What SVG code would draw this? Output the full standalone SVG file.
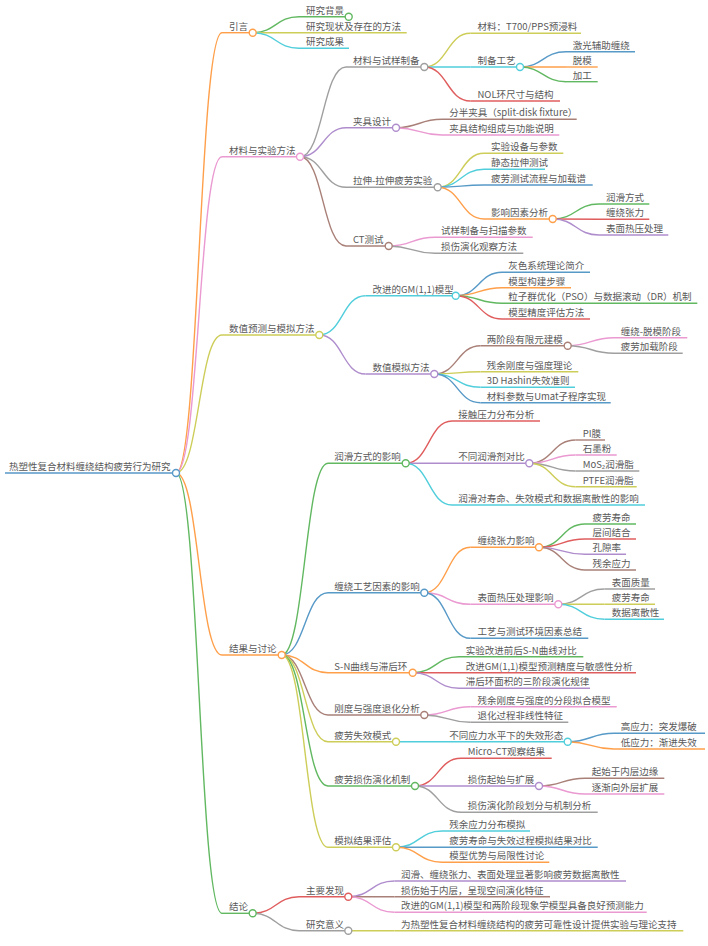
<svg xmlns="http://www.w3.org/2000/svg" width="708" height="946" viewBox="0 0 708 946">
<style>
text{font-family:"Noto Sans CJK SC","Noto Sans",sans-serif;font-size:9.5px;fill:#595959}
path,line{fill:none;stroke-width:1.4}
circle{fill:#fff;stroke-width:1.4}
.b{stroke:#5799c7}.o{stroke:#ff9f4a}.g{stroke:#61b861}.r{stroke:#e05d5e}.p{stroke:#af8dcd}
.br{stroke:#a98078}.pk{stroke:#ea99d1}.gy{stroke:#9f9f9f}.ol{stroke:#cdcd59}.cy{stroke:#51cedb}
</style>
<rect width="708" height="946" fill="#fff"/>
<g id="connectors">
<path class="o" d="M176 473C199 473 199 32.7 222 32.7"/>
<path class="pk" d="M176 473C199 473 199 156.7 222 156.7"/>
<path class="ol" d="M176 473C199 473 199 335 222 335"/>
<path class="o" d="M176 473C199 473 199 655 222 655"/>
<path class="g" d="M176 473C199 473 199 913.3 222 913.3"/>
<path class="g" d="M252.7 32.7C275.9 32.7 275.9 16.7 299 16.7"/>
<path class="ol" d="M252.7 32.7L299 32.7"/>
<path class="cy" d="M252.7 32.7C275.9 32.7 275.9 48.3 299 48.3"/>
<path class="gy" d="M300 156.7C323 156.7 323 67 346 67"/>
<path class="p" d="M300 156.7C323 156.7 323 127.7 346 127.7"/>
<path class="gy" d="M300 156.7C323 156.7 323 187.3 346 187.3"/>
<path class="br" d="M300 156.7C323 156.7 323 246 346 246"/>
<path class="ol" d="M424.3 67C447.3 67 447.3 33.3 470.3 33.3"/>
<path class="cy" d="M424.3 67L470.3 67"/>
<path class="r" d="M424.3 67C447.3 67 447.3 101 470.3 101"/>
<path class="b" d="M520 67C543 67 543 51.7 566 51.7"/>
<path class="o" d="M520 67L566 67"/>
<path class="g" d="M520 67C543 67 543 81.7 566 81.7"/>
<path class="br" d="M396 127.7C419 127.7 419 119.3 442 119.3"/>
<path class="pk" d="M396 127.7C419 127.7 419 135 442 135"/>
<path class="ol" d="M437.7 187.3C460.9 187.3 460.9 153.3 484 153.3"/>
<path class="cy" d="M437.7 187.3C460.9 187.3 460.9 169.3 484 169.3"/>
<path class="b" d="M437.7 187.3C460.9 187.3 460.9 185 484 185"/>
<path class="o" d="M437.7 187.3C460.9 187.3 460.9 219 484 219"/>
<path class="g" d="M552.7 219C575.9 219 575.9 204 599 204"/>
<path class="r" d="M552.7 219L599 219.3"/>
<path class="p" d="M552.7 219C575.9 219 575.9 235 599 235"/>
<path class="pk" d="M388.7 246C411.9 246 411.9 237.3 435 237.3"/>
<path class="gy" d="M388.7 246C411.9 246 411.9 253.3 435 253.3"/>
<path class="cy" d="M319.3 335C342.4 335 342.4 295.7 365.5 295.7"/>
<path class="p" d="M319.3 335C342.4 335 342.4 374 365.5 374"/>
<path class="b" d="M455.7 295.7C478.9 295.7 478.9 272.3 502 272.3"/>
<path class="o" d="M455.7 295.7C478.9 295.7 478.9 287.7 502 287.7"/>
<path class="g" d="M455.7 295.7C478.9 295.7 478.9 303.3 502 303.3"/>
<path class="r" d="M455.7 295.7C478.9 295.7 478.9 319 502 319"/>
<path class="br" d="M434.3 374C457.4 374 457.4 345.7 480.5 345.7"/>
<path class="ol" d="M434.3 374C457.4 374 457.4 371.7 480.5 371.7"/>
<path class="cy" d="M434.3 374C457.4 374 457.4 387.3 480.5 387.3"/>
<path class="b" d="M434.3 374C457.4 374 457.4 402.7 480.5 402.7"/>
<path class="pk" d="M567.7 345.7C590.9 345.7 590.9 337.7 614 337.7"/>
<path class="gy" d="M567.7 345.7C590.9 345.7 590.9 353.3 614 353.3"/>
<path class="g" d="M281.7 655C304.9 655 304.9 463.3 328 463.3"/>
<path class="b" d="M281.7 655C304.9 655 304.9 592.7 328 592.7"/>
<path class="o" d="M281.7 655C304.9 655 304.9 672.7 328 672.7"/>
<path class="br" d="M281.7 655C304.9 655 304.9 715 328 715"/>
<path class="ol" d="M281.7 655C304.9 655 304.9 741.7 328 741.7"/>
<path class="g" d="M281.7 655C304.9 655 304.9 786 328 786"/>
<path class="ol" d="M281.7 655C304.9 655 304.9 847.3 328 847.3"/>
<path class="r" d="M405.7 463.3C428.9 463.3 428.9 421 452 421"/>
<path class="p" d="M405.7 463.3L452 463.3"/>
<path class="cy" d="M405.7 463.3C428.9 463.3 428.9 505 452 505"/>
<path class="br" d="M529.3 463.3C552.4 463.3 552.4 440 575.5 440"/>
<path class="pk" d="M529.3 463.3C552.4 463.3 552.4 455 575.5 455"/>
<path class="gy" d="M529.3 463.3C552.4 463.3 552.4 471 575.5 471"/>
<path class="ol" d="M529.3 463.3C552.4 463.3 552.4 486.7 575.5 486.7"/>
<path class="o" d="M424.3 592.7C447.3 592.7 447.3 547.3 470.3 547.3"/>
<path class="pk" d="M424.3 592.7C447.3 592.7 447.3 604.3 470.3 604.3"/>
<path class="b" d="M424.3 592.7C447.3 592.7 447.3 638.3 470.3 638.3"/>
<path class="g" d="M539 547.3C562 547.3 562 524 585 524"/>
<path class="r" d="M539 547.3C562 547.3 562 539 585 539"/>
<path class="p" d="M539 547.3C562 547.3 562 554.3 585 554.3"/>
<path class="br" d="M539 547.3C562 547.3 562 570 585 570"/>
<path class="gy" d="M558.3 604.3C581.4 604.3 581.4 589 604.5 589"/>
<path class="ol" d="M558.3 604.3L604.5 604.3"/>
<path class="cy" d="M558.3 604.3C581.4 604.3 581.4 619.3 604.5 619.3"/>
<path class="g" d="M412.7 672.7C435.9 672.7 435.9 656.7 459 656.7"/>
<path class="r" d="M412.7 672.7L459 672.7"/>
<path class="p" d="M412.7 672.7C435.9 672.7 435.9 688.3 459 688.3"/>
<path class="pk" d="M424.3 715C447.3 715 447.3 706.7 470.3 706.7"/>
<path class="gy" d="M424.3 715C447.3 715 447.3 722.3 470.3 722.3"/>
<path class="cy" d="M396 741.7L442 741.7"/>
<path class="b" d="M567.7 741.7C590.9 741.7 590.9 733.3 614 733.3"/>
<path class="o" d="M567.7 741.7C590.9 741.7 590.9 749 614 749"/>
<path class="r" d="M415 786C438 786 438 758.3 461 758.3"/>
<path class="p" d="M415 786L461 786"/>
<path class="gy" d="M415 786C438 786 438 812.3 461 812.3"/>
<path class="br" d="M539 786C562 786 562 778.3 585 778.3"/>
<path class="pk" d="M539 786C562 786 562 794 585 794"/>
<path class="cy" d="M396 847.3C419 847.3 419 831 442 831"/>
<path class="b" d="M396 847.3L442 847.3"/>
<path class="o" d="M396 847.3C419 847.3 419 862.3 442 862.3"/>
<path class="r" d="M252.7 913.3C275.9 913.3 275.9 896.7 299 896.7"/>
<path class="gy" d="M252.7 913.3C275.9 913.3 275.9 930.7 299 930.7"/>
<path class="p" d="M348.3 896.7C371.4 896.7 371.4 881 394.5 881"/>
<path class="br" d="M348.3 896.7L394.5 896.7"/>
<path class="pk" d="M348.3 896.7C371.4 896.7 371.4 912.3 394.5 912.3"/>
<path class="ol" d="M348.3 930.7L394.5 930.7"/>
</g>
<g id="root"><line class="b" x1="5" y1="473" x2="176" y2="473"/><text x="9" y="470">热塑性复合材料缠绕结构疲劳行为研究</text><circle class="b" cx="176" cy="473" r="3.5"/></g>
<g id="n1"><line class="o" x1="222" y1="32.7" x2="252.7" y2="32.7"/><text x="229" y="29.7">引言</text><circle class="o" cx="252.7" cy="32.7" r="3.5"/></g>
<g id="n1-1"><line class="g" x1="299" y1="16.7" x2="348.7" y2="16.7"/><text x="306" y="13.7">研究背景</text><circle class="g" cx="348.7" cy="16.7" r="3.5"/></g>
<g id="n1-2"><line class="ol" x1="299" y1="32.7" x2="406.7" y2="32.7"/><text x="306" y="29.7">研究现状及存在的方法</text></g>
<g id="n1-3"><line class="cy" x1="299" y1="48.3" x2="349" y2="48.3"/><text x="306" y="45.3">研究成果</text></g>
<g id="n2"><line class="pk" x1="222" y1="156.7" x2="300" y2="156.7"/><text x="229" y="153.7">材料与实验方法</text><circle class="pk" cx="300" cy="156.7" r="3.5"/></g>
<g id="n2-1"><line class="gy" x1="346" y1="67" x2="424.3" y2="67"/><text x="353" y="64">材料与试样制备</text><circle class="gy" cx="424.3" cy="67" r="3.5"/></g>
<g id="n2-1-1"><line class="ol" x1="470.3" y1="33.3" x2="581" y2="33.3"/><text x="477.5" y="30.3">材料：T700/PPS预浸料</text></g>
<g id="n2-1-2"><line class="cy" x1="470.3" y1="67" x2="520" y2="67"/><text x="477.5" y="64">制备工艺</text><circle class="cy" cx="520" cy="67" r="3.5"/></g>
<g id="n2-1-2-1"><line class="b" x1="566" y1="51.7" x2="635" y2="51.7"/><text x="572.7" y="48.7">激光辅助缠绕</text></g>
<g id="n2-1-2-2"><line class="o" x1="566" y1="67" x2="597.7" y2="67"/><text x="572.7" y="64">脱模</text></g>
<g id="n2-1-2-3"><line class="g" x1="566" y1="81.7" x2="597.7" y2="81.7"/><text x="572.7" y="78.7">加工</text></g>
<g id="n2-1-3"><line class="r" x1="470.3" y1="101" x2="560" y2="101"/><text x="477.5" y="98">NOL环尺寸与结构</text></g>
<g id="n2-2"><line class="p" x1="346" y1="127.7" x2="396" y2="127.7"/><text x="353" y="124.7">夹具设计</text><circle class="p" cx="396" cy="127.7" r="3.5"/></g>
<g id="n2-2-1"><line class="br" x1="442" y1="119.3" x2="576.7" y2="119.3"/><text x="449.3" y="116.3">分半夹具（split-disk fixture）</text></g>
<g id="n2-2-2"><line class="pk" x1="442" y1="135" x2="559.3" y2="135"/><text x="449.3" y="132">夹具结构组成与功能说明</text></g>
<g id="n2-3"><line class="gy" x1="346" y1="187.3" x2="437.7" y2="187.3"/><text x="353" y="184.3">拉伸-拉伸疲劳实验</text><circle class="gy" cx="437.7" cy="187.3" r="3.5"/></g>
<g id="n2-3-1"><line class="ol" x1="484" y1="153.3" x2="563.3" y2="153.3"/><text x="491" y="150.3">实验设备与参数</text></g>
<g id="n2-3-2"><line class="cy" x1="484" y1="169.3" x2="545" y2="169.3"/><text x="491" y="166.3">静态拉伸测试</text></g>
<g id="n2-3-3"><line class="b" x1="484" y1="185" x2="592.7" y2="185"/><text x="491" y="182">疲劳测试流程与加载谱</text></g>
<g id="n2-3-4"><line class="o" x1="484" y1="219" x2="552.7" y2="219"/><text x="491" y="216">影响因素分析</text><circle class="o" cx="552.7" cy="219" r="3.5"/></g>
<g id="n2-3-4-1"><line class="g" x1="599" y1="204" x2="649.3" y2="204"/><text x="606" y="201">润滑方式</text></g>
<g id="n2-3-4-2"><line class="r" x1="599" y1="219.3" x2="649.3" y2="219.3"/><text x="606" y="216.3">缠绕张力</text></g>
<g id="n2-3-4-3"><line class="p" x1="599" y1="235" x2="668.3" y2="235"/><text x="606" y="232">表面热压处理</text></g>
<g id="n2-4"><line class="br" x1="346" y1="246" x2="388.7" y2="246"/><text x="353" y="243">CT测试</text><circle class="br" cx="388.7" cy="246" r="3.5"/></g>
<g id="n2-4-1"><line class="pk" x1="435" y1="237.3" x2="532.7" y2="237.3"/><text x="441" y="234.3">试样制备与扫描参数</text></g>
<g id="n2-4-2"><line class="gy" x1="435" y1="253.3" x2="523.3" y2="253.3"/><text x="441" y="250.3">损伤演化观察方法</text></g>
<g id="n3"><line class="ol" x1="222" y1="335" x2="319.3" y2="335"/><text x="229" y="332">数值预测与模拟方法</text><circle class="ol" cx="319.3" cy="335" r="3.5"/></g>
<g id="n3-1"><line class="cy" x1="365.5" y1="295.7" x2="455.7" y2="295.7"/><text x="372.5" y="292.7">改进的GM(1,1)模型</text><circle class="cy" cx="455.7" cy="295.7" r="3.5"/></g>
<g id="n3-1-1"><line class="b" x1="502" y1="272.3" x2="590" y2="272.3"/><text x="508.3" y="269.3">灰色系统理论简介</text></g>
<g id="n3-1-2"><line class="o" x1="502" y1="287.7" x2="571" y2="287.7"/><text x="508.3" y="284.7">模型构建步骤</text></g>
<g id="n3-1-3"><line class="g" x1="502" y1="303.3" x2="697.3" y2="303.3"/><text x="508.3" y="300.3">粒子群优化（PSO）与数据滚动（DR）机制</text></g>
<g id="n3-1-4"><line class="r" x1="502" y1="319" x2="590" y2="319"/><text x="508.3" y="316">模型精度评估方法</text></g>
<g id="n3-2"><line class="p" x1="365.5" y1="374" x2="434.3" y2="374"/><text x="372.5" y="371">数值模拟方法</text><circle class="p" cx="434.3" cy="374" r="3.5"/></g>
<g id="n3-2-1"><line class="br" x1="480.5" y1="345.7" x2="567.7" y2="345.7"/><text x="486.7" y="342.7">两阶段有限元建模</text><circle class="br" cx="567.7" cy="345.7" r="3.5"/></g>
<g id="n3-2-1-1"><line class="pk" x1="614" y1="337.7" x2="687.3" y2="337.7"/><text x="620.7" y="334.7">缠绕-脱模阶段</text></g>
<g id="n3-2-1-2"><line class="gy" x1="614" y1="353.3" x2="682.7" y2="353.3"/><text x="620.7" y="350.3">疲劳加载阶段</text></g>
<g id="n3-2-2"><line class="ol" x1="480.5" y1="371.7" x2="578.3" y2="371.7"/><text x="486.7" y="368.7">残余刚度与强度理论</text></g>
<g id="n3-2-3"><line class="cy" x1="480.5" y1="387.3" x2="575" y2="387.3"/><text x="486.7" y="384.3">3D Hashin失效准则</text></g>
<g id="n3-2-4"><line class="b" x1="480.5" y1="402.7" x2="610.7" y2="402.7"/><text x="486.7" y="399.7">材料参数与Umat子程序实现</text></g>
<g id="n4"><line class="o" x1="222" y1="655" x2="281.7" y2="655"/><text x="229" y="652">结果与讨论</text><circle class="o" cx="281.7" cy="655" r="3.5"/></g>
<g id="n4-1"><line class="g" x1="328" y1="463.3" x2="405.7" y2="463.3"/><text x="334.3" y="460.3">润滑方式的影响</text><circle class="g" cx="405.7" cy="463.3" r="3.5"/></g>
<g id="n4-1-1"><line class="r" x1="452" y1="421" x2="540" y2="421"/><text x="458.3" y="418">接触压力分布分析</text></g>
<g id="n4-1-2"><line class="p" x1="452" y1="463.3" x2="529.3" y2="463.3"/><text x="458.3" y="460.3">不同润滑剂对比</text><circle class="p" cx="529.3" cy="463.3" r="3.5"/></g>
<g id="n4-1-2-1"><line class="br" x1="575.5" y1="440" x2="605" y2="440"/><text x="582.7" y="437">PI膜</text></g>
<g id="n4-1-2-2"><line class="pk" x1="575.5" y1="455" x2="616.7" y2="455"/><text x="582.7" y="452">石墨粉</text></g>
<g id="n4-1-2-3"><line class="gy" x1="575.5" y1="471" x2="639.3" y2="471"/><text x="582.7" y="468">MoS₂润滑脂</text></g>
<g id="n4-1-2-4"><line class="ol" x1="575.5" y1="486.7" x2="636.7" y2="486.7"/><text x="582.7" y="483.7">PTFE润滑脂</text></g>
<g id="n4-1-3"><line class="cy" x1="452" y1="505" x2="645" y2="505"/><text x="458.3" y="502">润滑对寿命、失效模式和数据离散性的影响</text></g>
<g id="n4-2"><line class="b" x1="328" y1="592.7" x2="424.3" y2="592.7"/><text x="334.3" y="589.7">缠绕工艺因素的影响</text><circle class="b" cx="424.3" cy="592.7" r="3.5"/></g>
<g id="n4-2-1"><line class="o" x1="470.3" y1="547.3" x2="539" y2="547.3"/><text x="477.5" y="544.3">缠绕张力影响</text><circle class="o" cx="539" cy="547.3" r="3.5"/></g>
<g id="n4-2-1-1"><line class="g" x1="585" y1="524" x2="636" y2="524"/><text x="592.5" y="521">疲劳寿命</text></g>
<g id="n4-2-1-2"><line class="r" x1="585" y1="539" x2="636" y2="539"/><text x="592.5" y="536">层间结合</text></g>
<g id="n4-2-1-3"><line class="p" x1="585" y1="554.3" x2="626" y2="554.3"/><text x="592.5" y="551.3">孔隙率</text></g>
<g id="n4-2-1-4"><line class="br" x1="585" y1="570" x2="636" y2="570"/><text x="592.5" y="567">残余应力</text></g>
<g id="n4-2-2"><line class="pk" x1="470.3" y1="604.3" x2="558.3" y2="604.3"/><text x="477.5" y="601.3">表面热压处理影响</text><circle class="pk" cx="558.3" cy="604.3" r="3.5"/></g>
<g id="n4-2-2-1"><line class="gy" x1="604.5" y1="589" x2="655" y2="589"/><text x="611.7" y="586">表面质量</text></g>
<g id="n4-2-2-2"><line class="ol" x1="604.5" y1="604.3" x2="655" y2="604.3"/><text x="611.7" y="601.3">疲劳寿命</text></g>
<g id="n4-2-2-3"><line class="cy" x1="604.5" y1="619.3" x2="664" y2="619.3"/><text x="611.7" y="616.3">数据离散性</text></g>
<g id="n4-2-3"><line class="b" x1="470.3" y1="638.3" x2="588.3" y2="638.3"/><text x="477.5" y="635.3">工艺与测试环境因素总结</text></g>
<g id="n4-3"><line class="o" x1="328" y1="672.7" x2="412.7" y2="672.7"/><text x="334.3" y="669.7">S-N曲线与滞后环</text><circle class="o" cx="412.7" cy="672.7" r="3.5"/></g>
<g id="n4-3-1"><line class="g" x1="459" y1="656.7" x2="583.3" y2="656.7"/><text x="465.7" y="653.7">实验改进前后S-N曲线对比</text></g>
<g id="n4-3-2"><line class="r" x1="459" y1="672.7" x2="636" y2="672.7"/><text x="465.7" y="669.7">改进GM(1,1)模型预测精度与敏感性分析</text></g>
<g id="n4-3-3"><line class="p" x1="459" y1="688.3" x2="590" y2="688.3"/><text x="465.7" y="685.3">滞后环面积的三阶段演化规律</text></g>
<g id="n4-4"><line class="br" x1="328" y1="715" x2="424.3" y2="715"/><text x="334.3" y="712">刚度与强度退化分析</text><circle class="br" cx="424.3" cy="715" r="3.5"/></g>
<g id="n4-4-1"><line class="pk" x1="470.3" y1="706.7" x2="616.7" y2="706.7"/><text x="477.5" y="703.7">残余刚度与强度的分段拟合模型</text></g>
<g id="n4-4-2"><line class="gy" x1="470.3" y1="722.3" x2="568.3" y2="722.3"/><text x="477.5" y="719.3">退化过程非线性特征</text></g>
<g id="n4-5"><line class="ol" x1="328" y1="741.7" x2="396" y2="741.7"/><text x="334.3" y="738.7">疲劳失效模式</text><circle class="ol" cx="396" cy="741.7" r="3.5"/></g>
<g id="n4-5-1"><line class="cy" x1="442" y1="741.7" x2="567.7" y2="741.7"/><text x="449.3" y="738.7">不同应力水平下的失效形态</text><circle class="cy" cx="567.7" cy="741.7" r="3.5"/></g>
<g id="n4-5-1-1"><line class="b" x1="614" y1="733.3" x2="705" y2="733.3"/><text x="620.7" y="730.3">高应力：突发爆破</text></g>
<g id="n4-5-1-2"><line class="o" x1="614" y1="749" x2="705" y2="749"/><text x="620.7" y="746">低应力：渐进失效</text></g>
<g id="n4-6"><line class="g" x1="328" y1="786" x2="415" y2="786"/><text x="334.3" y="783">疲劳损伤演化机制</text><circle class="g" cx="415" cy="786" r="3.5"/></g>
<g id="n4-6-1"><line class="r" x1="461" y1="758.3" x2="551.7" y2="758.3"/><text x="467.7" y="755.3">Micro-CT观察结果</text></g>
<g id="n4-6-2"><line class="p" x1="461" y1="786" x2="539" y2="786"/><text x="467.7" y="783">损伤起始与扩展</text><circle class="p" cx="539" cy="786" r="3.5"/></g>
<g id="n4-6-2-1"><line class="br" x1="585" y1="778.3" x2="664.3" y2="778.3"/><text x="591.7" y="775.3">起始于内层边缘</text></g>
<g id="n4-6-2-2"><line class="pk" x1="585" y1="794" x2="664.3" y2="794"/><text x="591.7" y="791">逐渐向外层扩展</text></g>
<g id="n4-6-3"><line class="gy" x1="461" y1="812.3" x2="597.7" y2="812.3"/><text x="467.7" y="809.3">损伤演化阶段划分与机制分析</text></g>
<g id="n4-7"><line class="ol" x1="328" y1="847.3" x2="396" y2="847.3"/><text x="334.3" y="844.3">模拟结果评估</text><circle class="ol" cx="396" cy="847.3" r="3.5"/></g>
<g id="n4-7-1"><line class="cy" x1="442" y1="831" x2="530" y2="831"/><text x="449.3" y="828">残余应力分布模拟</text></g>
<g id="n4-7-2"><line class="b" x1="442" y1="847.3" x2="597.7" y2="847.3"/><text x="449.3" y="844.3">疲劳寿命与失效过程模拟结果对比</text></g>
<g id="n4-7-3"><line class="o" x1="442" y1="862.3" x2="549.3" y2="862.3"/><text x="449.3" y="859.3">模型优势与局限性讨论</text></g>
<g id="n5"><line class="g" x1="222" y1="913.3" x2="252.7" y2="913.3"/><text x="229" y="910.3">结论</text><circle class="g" cx="252.7" cy="913.3" r="3.5"/></g>
<g id="n5-1"><line class="r" x1="299" y1="896.7" x2="348.3" y2="896.7"/><text x="306" y="893.7">主要发现</text><circle class="r" cx="348.3" cy="896.7" r="3.5"/></g>
<g id="n5-1-1"><line class="p" x1="394.5" y1="881" x2="626" y2="881"/><text x="401" y="878">润滑、缠绕张力、表面处理显著影响疲劳数据离散性</text></g>
<g id="n5-1-2"><line class="br" x1="394.5" y1="896.7" x2="550" y2="896.7"/><text x="401" y="893.7">损伤始于内层，呈现空间演化特征</text></g>
<g id="n5-1-3"><line class="pk" x1="394.5" y1="912.3" x2="646.7" y2="912.3"/><text x="401" y="909.3">改进的GM(1,1)模型和两阶段现象学模型具备良好预测能力</text></g>
<g id="n5-2"><line class="gy" x1="299" y1="930.7" x2="348.3" y2="930.7"/><text x="306" y="927.7">研究意义</text><circle class="gy" cx="348.3" cy="930.7" r="3.5"/></g>
<g id="n5-2-1"><line class="ol" x1="394.5" y1="930.7" x2="683.3" y2="930.7"/><text x="401" y="927.7">为热塑性复合材料缠绕结构的疲劳可靠性设计提供实验与理论支持</text></g>
</svg>
